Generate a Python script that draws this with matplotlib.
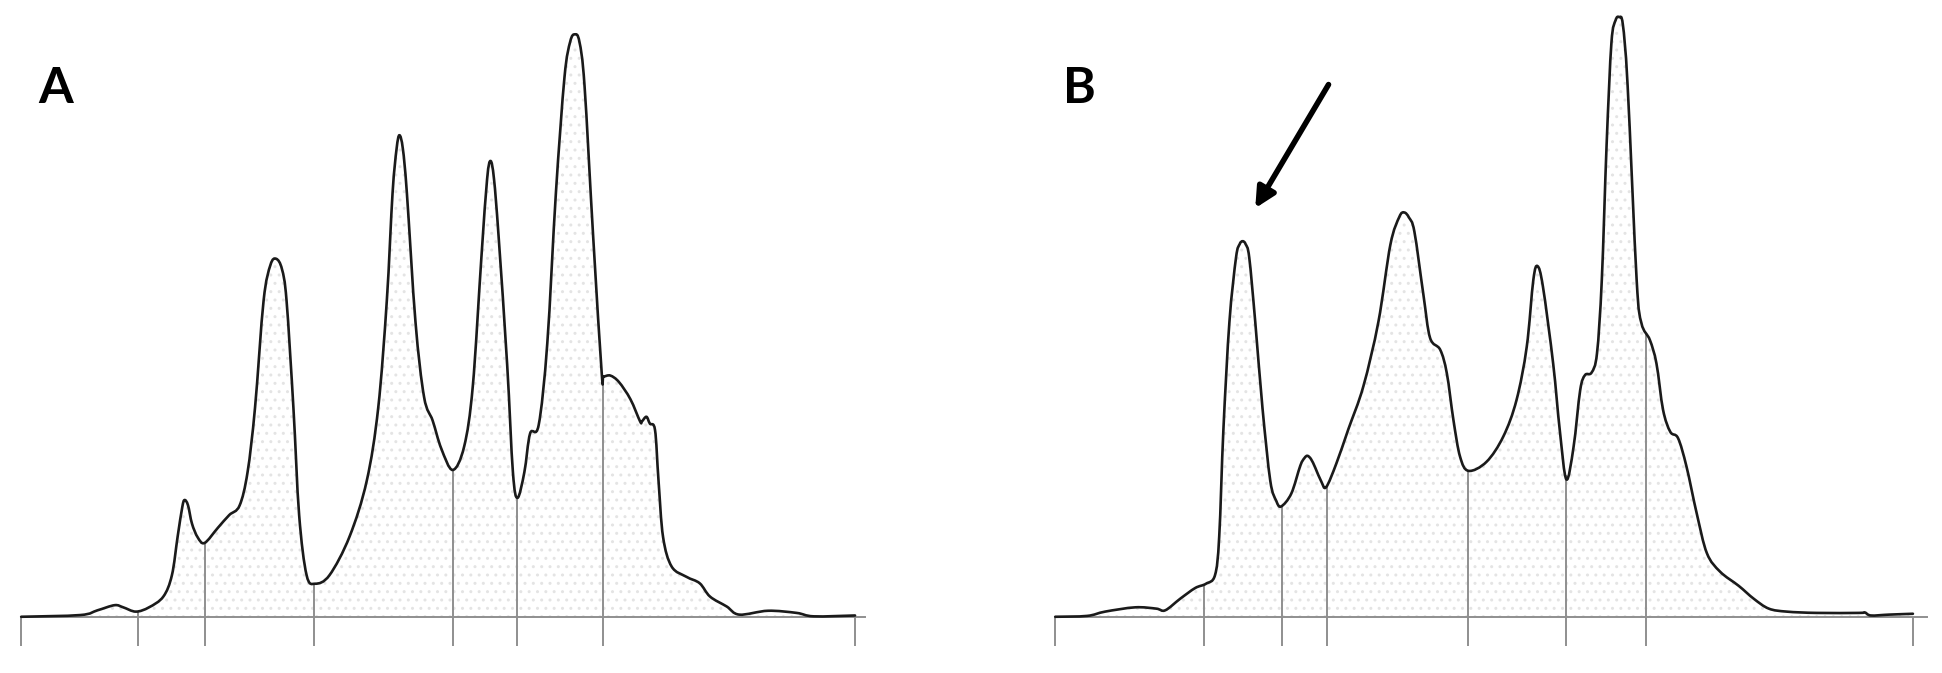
import numpy as np
import matplotlib
matplotlib.use('Agg')
from matplotlib import pyplot as plt
from matplotlib.path import Path
from matplotlib.patches import PathPatch

# ---- panel A : density trace (x position, height above baseline) ----
a_x = [37, 140, 170, 200, 215, 237, 260, 285, 300, 310, 318, 322, 328, 335, 345,
       357, 380, 400, 418, 432, 445, 460, 472, 482, 492, 500, 512, 522, 535, 550,
       575, 610, 640, 660, 675, 685, 692, 697, 703, 710, 725, 740, 755, 770, 790,
       810, 825, 840, 850, 856, 862, 870, 885, 895, 903, 915, 925, 940, 955, 970,
       985, 995, 1003, 1011, 1020, 1035, 1050, 1053, 1065, 1080, 1100, 1117, 1120,
       1128, 1134, 1143, 1149, 1157, 1172, 1198, 1221, 1239, 1268, 1290, 1340,
       1390, 1420, 1492]
a_y = [0, 4, 15, 27, 22, 12, 22, 47, 97, 187, 255, 272, 260, 217, 185,
       172, 207, 237, 259, 337, 487, 737, 820, 834, 810, 737, 487, 237, 97, 77,
       97, 187, 317, 487, 737, 987, 1090, 1122, 1090, 987, 687, 512, 457, 392, 342,
       397, 537, 837, 1020, 1062, 1020, 887, 587, 337, 277, 337, 427, 447, 637, 987,
       1257, 1340, 1357, 1340, 1237, 887, 567, 560, 562, 547, 507, 455, 455,
       466, 450, 435, 319, 186, 117, 93, 78, 47, 24, 5, 14,
       9, 1, 3]
a_cuts = [240, 357, 548, 790, 903, 1052]
a_ends = [37, 1492]

# ---- panel B ----
b_x = [92, 145, 175, 225, 260, 275, 300, 325, 343, 358, 365, 372, 382, 393, 399,
       404, 409, 415, 425, 437, 450, 460, 468, 485, 500, 507, 512, 518, 525, 535,
       543, 560, 580, 605, 630, 650, 665, 673, 681, 690, 705, 716, 733, 744, 755,
       766, 780, 810, 838, 860, 877, 888, 895, 904, 921, 932, 943, 955, 966, 974,
       985, 994, 1002, 1010, 1018, 1025, 1031, 1037, 1045, 1060, 1068, 1082, 1093,
       1104, 1116, 1129, 1143, 1160, 1177, 1199, 1230, 1255, 1280, 1310, 1360,
       1430, 1440, 1450, 1480, 1520]
b_y = [0, 2, 12, 22, 19, 15, 42, 67, 77, 97, 187, 437, 687, 837, 868,
       875, 868, 837, 687, 487, 317, 270, 257, 287, 352, 370, 375, 367, 347, 315,
       302, 357, 437, 537, 687, 867, 932, 942, 930, 897, 750, 650, 622, 567, 458,
       373, 340, 361, 420, 505, 629, 785, 817, 769, 590, 435, 320, 396, 528, 563,
       569, 614, 785, 1100, 1337, 1390, 1397, 1380, 1237, 785, 684, 645, 590,
       482, 431, 416, 350, 241, 148, 105, 72, 42, 19, 12, 9,
       9, 10, 3, 5, 7]
b_cuts = [340, 469, 544, 779, 942, 1076]
b_ends = [92, 1520]

line_col = '#1a1a1a'
grey = '#8f8f8f'


def smooth_path(x, y):
    # cubic bezier through the read points (catmull-rom style handles)
    pts = np.column_stack([x, y]).astype(float)
    n = len(pts)
    verts = [pts[0]]
    codes = [Path.MOVETO]
    for i in range(n - 1):
        p0 = pts[max(i - 1, 0)]
        p1 = pts[i]
        p2 = pts[i + 1]
        p3 = pts[min(i + 2, n - 1)]
        c1 = p1 + (p2 - p0) / 6.0
        c2 = p2 - (p3 - p1) / 6.0
        verts += [c1, c2, p2]
        codes += [Path.CURVE4] * 3
    return Path(verts, codes)


def draw_panel(ax, x, y, cuts, ends, axis_end):
    x = np.array(x)
    y = np.array(y)
    ax.fill_between(x, 0, y, facecolor='none', edgecolor='#e4e4e4',
                    hatch='..', linewidth=0)
    ax.vlines(cuts, 0, np.interp(cuts, x, y), color=grey, lw=1.4, zorder=2)
    ax.add_patch(PathPatch(smooth_path(x, y), facecolor='none',
                           edgecolor=line_col, lw=1.9, zorder=3,
                           joinstyle='round', capstyle='round'))

    for s in ['top', 'right', 'left']:
        ax.spines[s].set_visible(False)
    ax.spines['bottom'].set_position(('data', 0))
    ax.spines['bottom'].set_bounds(ends[0], axis_end)
    ax.spines['bottom'].set_color(grey)
    ax.spines['bottom'].set_linewidth(1.4)
    ax.set_xticks([ends[0]] + cuts + [ends[1]])
    ax.set_xticklabels([])
    ax.set_yticks([])
    ax.tick_params(axis='x', direction='out', length=21, width=1.4, color=grey)
    ax.set_ylim(-131, 1437)
    ax.patch.set_visible(False)


fig = plt.figure(figsize=(19.42, 6.73), dpi=100)

axA = fig.add_axes([0.0059, 0.0, 0.4456, 1.0])
draw_panel(axA, a_x, a_y, a_cuts, a_ends, 1510)
axA.set_xlim(20, 1530)

axB = fig.add_axes([0.5273, 0.0, 0.4701, 1.0])
draw_panel(axB, b_x, b_y, b_cuts, b_ends, 1543)
axB.set_xlim(40, 1560)

# arrow pointing at the first peak of B
axB.annotate('', xy=(425, 952), xytext=(547, 1240),
             arrowprops=dict(arrowstyle='-|>', lw=4.0, color='black',
                             mutation_scale=30, shrinkA=0, shrinkB=0))

fig.text(0.0195, 0.847, 'A', fontsize=36, fontweight='bold',
         family=['Lato', 'DejaVu Sans'], va='baseline')
fig.text(0.5475, 0.847, 'B', fontsize=36, fontweight='bold',
         family=['Lato', 'DejaVu Sans'], va='baseline')

plt.savefig('out.png', dpi=100)
